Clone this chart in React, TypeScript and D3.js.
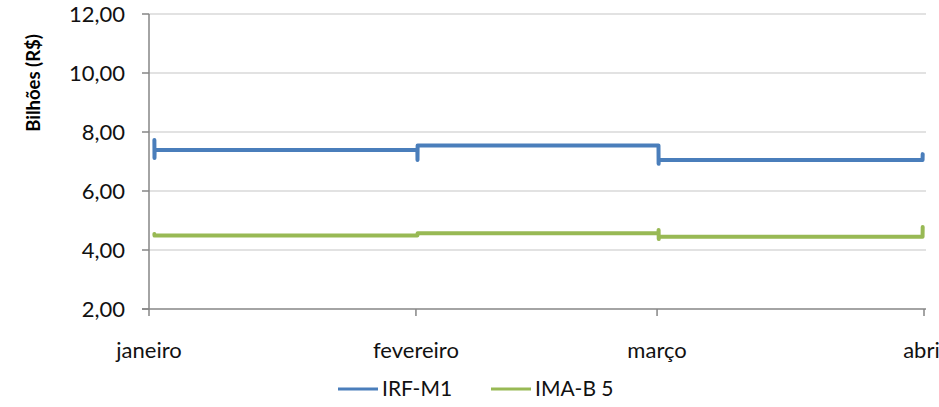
import React from "react";
import * as d3 from "d3";

const monthLabels = ["janeiro", "fevereiro", "março", "abril"];
const monthDates = ["2014-01-01T00:00", "2014-02-01T00:00", "2014-03-01T00:00", "2014-04-01T00:00"];
const yTicks = [2, 4, 6, 8, 10, 12];

const irfDates = [
  "2014-01-01T15:00", "2014-01-01T15:20", "2014-01-01T15:40",
  "2014-02-01T04:00", "2014-02-01T04:20", "2014-02-01T04:40",
  "2014-03-01T04:00", "2014-03-01T04:20", "2014-03-01T04:40",
  "2014-03-31T20:00", "2014-03-31T20:20",
];
const irfValues = [7.73, 7.12, 7.39, 7.39, 7.05, 7.54, 7.54, 6.92, 7.05, 7.05, 7.25];

const imaDates = [
  "2014-01-01T15:00", "2014-01-01T15:20",
  "2014-02-01T04:00", "2014-02-01T04:40",
  "2014-03-01T04:00", "2014-03-01T04:20", "2014-03-01T04:40", "2014-03-01T05:00",
  "2014-03-31T20:00", "2014-03-31T20:20",
];
const imaValues = [4.54, 4.49, 4.49, 4.57, 4.57, 4.68, 4.37, 4.45, 4.45, 4.78];

const seriesNames = ["IRF-M1", "IMA-B 5"];
const seriesColors = ["#4A7EBB", "#98B954"];

const W = 939;
const H = 407;
const FONT = "Lato, 'Open Sans', sans-serif";

export default function App() {
  const x = d3
    .scaleTime()
    .domain([new Date(monthDates[0]), new Date(monthDates[3])])
    .range([149, 924]);
  const y = d3.scaleLinear().domain([2, 12]).range([309, 14]);

  const line = d3
    .line<[Date, number]>()
    .x((d) => x(d[0]))
    .y((d) => y(d[1]));

  const series = [
    irfDates.map((d, i) => [new Date(d), irfValues[i]] as [Date, number]),
    imaDates.map((d, i) => [new Date(d), imaValues[i]] as [Date, number]),
  ];

  const legendItems = [
    { x0: 338, tx: 382 },
    { x0: 491, tx: 535 },
  ];

  return (
    <svg
      width={W}
      height={H}
      style={{ position: "absolute", left: 0, top: 0, background: "#fff" }}
      fontFamily={FONT}
    >
      {/* gridlines */}
      {yTicks.slice(1).map((t) => (
        <line key={"g" + t} x1={149} x2={926} y1={y(t)} y2={y(t)} stroke="#D9D9D9" strokeWidth={1.5} />
      ))}
      {/* y axis */}
      <line x1={149} x2={149} y1={y(12)} y2={y(2)} stroke="#868686" strokeWidth={1.5} />
      {yTicks.map((t) => (
        <g key={"yt" + t}>
          <line x1={142} x2={149} y1={y(t)} y2={y(t)} stroke="#868686" strokeWidth={1.5} />
          <text x={125} y={y(t)} dy="0.35em" textAnchor="end" fontSize={22} fill="#111">
            {d3.format(".2f")(t).replace(".", ",")}
          </text>
        </g>
      ))}
      {/* x axis */}
      <line x1={142} x2={926} y1={y(2)} y2={y(2)} stroke="#868686" strokeWidth={1.5} />
      {monthDates.map((d, i) => (
        <g key={"xt" + i}>
          <line x1={x(new Date(d))} x2={x(new Date(d))} y1={y(2)} y2={y(2) + 7} stroke="#868686" strokeWidth={1.5} />
          <text x={x(new Date(d))} y={358} textAnchor="middle" fontSize={22} fill="#111">
            {monthLabels[i]}
          </text>
        </g>
      ))}
      {/* y title */}
      <text
        transform={`translate(40, 83) rotate(-90)`}
        textAnchor="middle"
        fontSize={18.5}
        fontWeight="bold"
        fill="#000"
      >
        Bilhões (R$)
      </text>
      {/* series */}
      {series.map((s, i) => (
        <path
          key={"s" + i}
          d={line(s) || ""}
          fill="none"
          stroke={seriesColors[i]}
          strokeWidth={4}
          strokeLinejoin="round"
          strokeLinecap="round"
        />
      ))}
      {/* legend */}
      {legendItems.map((l, i) => (
        <g key={"l" + i}>
          <line x1={l.x0} x2={l.x0 + 40} y1={389} y2={389} stroke={seriesColors[i]} strokeWidth={3} />
          <text x={l.tx} y={389} dy="0.35em" fontSize={21} fill="#111">
            {seriesNames[i]}
          </text>
        </g>
      ))}
    </svg>
  );
}
